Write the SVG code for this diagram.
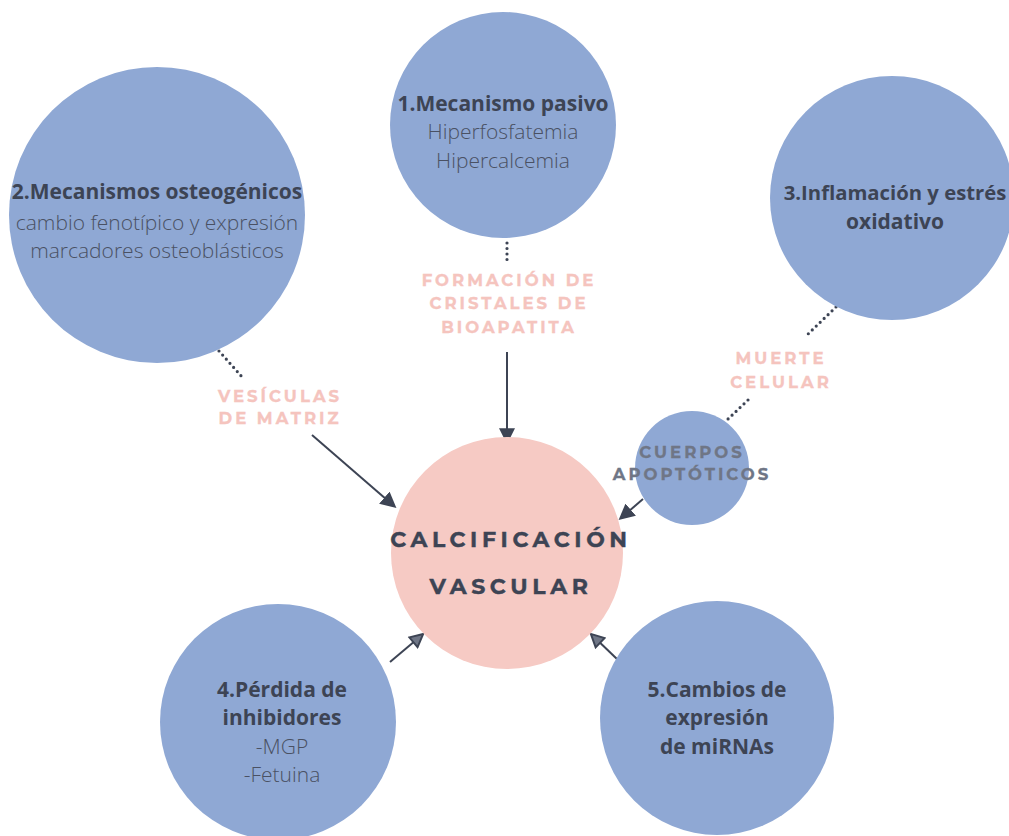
<svg xmlns="http://www.w3.org/2000/svg" width="1009" height="836" viewBox="0 0 1009 836">
<defs>
<style>
.node{fill:#8fa8d4}
.center{fill:#f6cac4}
.t{font-family:"Open Sans","Noto Sans","Liberation Sans",sans-serif;font-size:21px;text-anchor:middle}
.b{font-weight:700;fill:#3d4454}
.l{font-weight:300;fill:#4a5163}
.cap{font-family:"Montserrat","DejaVu Sans","Liberation Sans",sans-serif;font-weight:700;font-size:16.5px;letter-spacing:3px;text-anchor:middle;fill:#f5c4be;stroke:#f5c4be;stroke-width:0.3}
.grey{fill:#6f7686;stroke:#6f7686}
.big{font-family:"Montserrat","DejaVu Sans","Liberation Sans",sans-serif;font-weight:700;font-size:22px;letter-spacing:4.6px;text-anchor:middle;fill:#3d4454;stroke:#3d4454;stroke-width:0.4}
.dot{stroke:#3d4454;stroke-width:3.2;stroke-linecap:round;stroke-dasharray:0 5.5;fill:none}
.arr{stroke:#3d4454;stroke-width:2;fill:none;marker-end:url(#ah)}
</style>
<marker id="ah" viewBox="0 0 10 10" refX="8" refY="5" markerWidth="8" markerHeight="8" orient="auto" markerUnits="strokeWidth">
<path d="M0,0 L10,5 L0,10 z" fill="#3d4454"/>
</marker>
<marker id="ah2" viewBox="0 0 10 10" refX="8" refY="5" markerWidth="8" markerHeight="8" orient="auto" markerUnits="strokeWidth">
<path d="M1,1 L9,5 L1,9 z" fill="#6f7686" stroke="#3d4454" stroke-width="1.2"/>
</marker>
</defs>
<rect width="1009" height="836" fill="#ffffff"/>

<g id="connectors">
<path class="dot" d="M507,243 L507,262"/>
<path class="dot" d="M219,351 L243,378"/>
<path class="dot" d="M836,307 L806,336"/>
<path class="dot" d="M748,400 L727,420"/>
<path class="arr" d="M507,352 L507,441"/>
<path class="arr" d="M312,435 L394,506"/>
<path class="arr" d="M643,499 L621,518"/>
<path class="arr" style="marker-end:url(#ah2)" d="M390,662 L422,635"/>
<path class="arr" style="marker-end:url(#ah2)" d="M618,660 L592,635"/>
</g>

<g id="node-center">
<circle class="center" cx="507" cy="553" r="116"/>
<text class="big" x="511" y="547">CALCIFICACIÓN</text>
<text class="big" x="511" y="594">VASCULAR</text>
</g>

<g id="node-1">
<circle class="node" cx="503" cy="125" r="113"/>
<text class="t b" x="503" y="111">1.Mecanismo pasivo</text>
<text class="t l" x="503" y="139">Hiperfosfatemia</text>
<text class="t l" x="503" y="168">Hipercalcemia</text>
</g>

<g id="node-2">
<circle class="node" cx="157" cy="215" r="148"/>
<text class="t b" x="157" y="199">2.Mecanismos osteogénicos</text>
<text class="t l" x="157" y="230">cambio fenotípico y expresión</text>
<text class="t l" x="157" y="258">marcadores osteoblásticos</text>
</g>

<g id="node-3">
<circle class="node" cx="892" cy="198" r="122"/>
<text class="t b" x="895" y="200" style="font-size:20.3px">3.Inflamación y estrés</text>
<text class="t b" x="895" y="229">oxidativo</text>
</g>

<g id="node-apoptoticos">
<circle class="node" cx="692" cy="468" r="57"/>
<text class="cap grey" x="692" y="458">CUERPOS</text>
<text class="cap grey" x="692" y="480">APOPTÓTICOS</text>
</g>

<g id="node-4">
<circle class="node" cx="278" cy="722" r="118"/>
<text class="t b" x="282" y="697">4.Pérdida de</text>
<text class="t b" x="282" y="725">inhibidores</text>
<text class="t l" x="282" y="754">-MGP</text>
<text class="t l" x="282" y="782">-Fetuina</text>
</g>

<g id="node-5">
<circle class="node" cx="717" cy="718" r="117"/>
<text class="t b" x="717" y="697">5.Cambios de</text>
<text class="t b" x="717" y="725">expresión</text>
<text class="t b" x="717" y="754">de miRNAs</text>
</g>

<g id="labels">
<text class="cap" x="509" y="286">FORMACIÓN DE</text>
<text class="cap" x="509" y="309">CRISTALES DE</text>
<text class="cap" x="509" y="333">BIOAPATITA</text>
<text class="cap" x="280" y="402">VESÍCULAS</text>
<text class="cap" x="280" y="424">DE MATRIZ</text>
<text class="cap" x="781" y="364">MUERTE</text>
<text class="cap" x="781" y="388">CELULAR</text>
</g>
</svg>
